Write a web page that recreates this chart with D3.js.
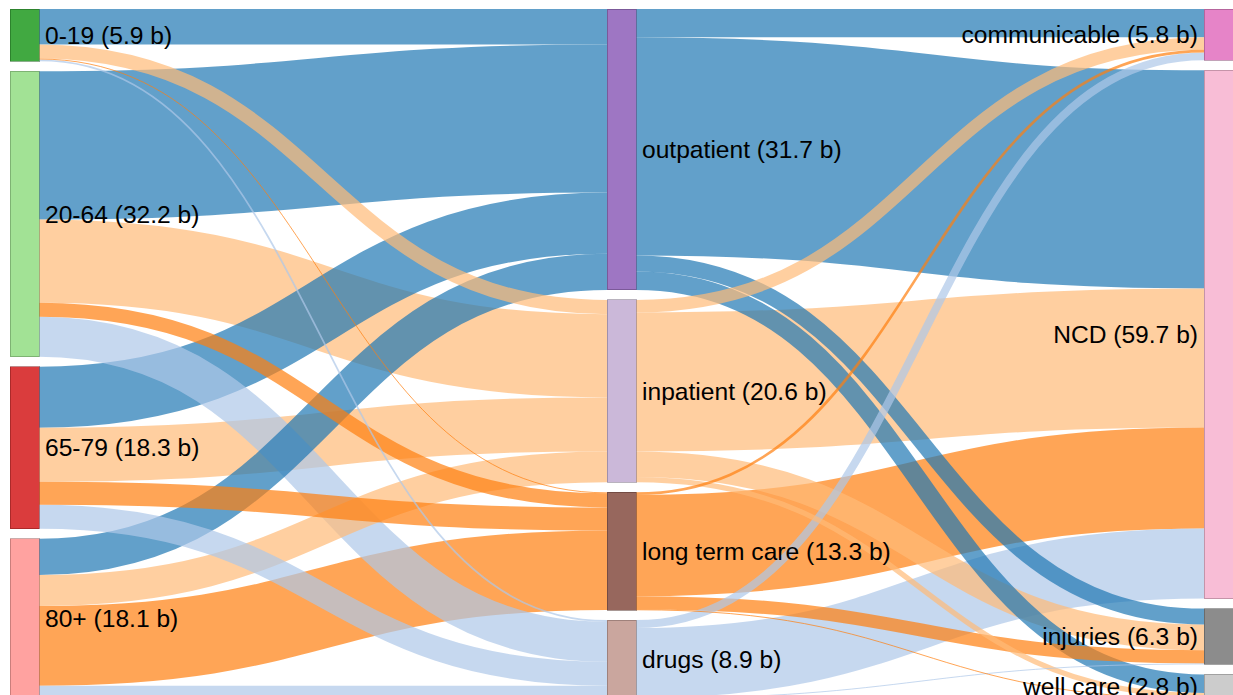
<!DOCTYPE html>
<html>
<head>
<meta charset="utf-8">
<script src="https://cdn.jsdelivr.net/npm/d3@7"></script>
<style>
  html, body { margin: 0; padding: 0; overflow: hidden; background: #fff; }
  .node text { font: 24.6px "Liberation Sans", Arial, sans-serif; fill: #000; }
</style>
</head>
<body>
<div id="chart"></div>
<script>
// three columns of the sankey
const ages = ["0-19", "20-64", "65-79", "80+"];
const careTypes = ["outpatient", "inpatient", "long term care", "drugs"];
const diseases = ["communicable", "NCD", "injuries", "well care"];

// spending in billions, rows = age group, cols = care type
const ageToCare = [
  [4.0, 1.6, 0.1, 0.2],
  [16.74, 9.4, 1.6, 4.5],
  [6.9, 6.1, 2.6, 2.71],
  [4.1, 3.5, 9.0, 1.5]
];
// rows = care type, cols = disease group
const careToDisease = [
  [3.2, 24.64, 1.8, 2.1],
  [1.4, 15.7, 2.9, 0.6],
  [0.3, 11.42, 1.5, 0.08],
  [0.9, 7.91, 0.1, 0]
];

const ageColors = ["#2ca02c", "#98df8a", "#d62728", "#ff9896"];
const careColors = ["#9467bd", "#c5b0d5", "#8c564b", "#c49c94"];
const diseaseColors = ["#e377c2", "#f7b6d2", "#7f7f7f", "#c7c7c7"];
// links take the colour of the care type they pass through
const careLinkColors = ["#1f77b4", "#ffbb78", "#ff7f0e", "#aec7e8"];

const width = 1233, height = 700;
const extent = {x0: 10, y0: 9, x1: 1233, y1: 699};
const nodeWidth = 29, nodePadding = 10;

const svg = d3.select("#chart").append("svg")
    .attr("width", width)
    .attr("height", height);

// build nodes
const columns = [
  ages.map((n, i) => ({name: n, color: ageColors[i]})),
  careTypes.map((n, i) => ({name: n, color: careColors[i]})),
  diseases.map((n, i) => ({name: n, color: diseaseColors[i]}))
];
columns.forEach((col, c) => col.forEach(n => {
  n.col = c; n.sourceLinks = []; n.targetLinks = [];
}));

// build links
const links = [];
function addLinks(matrix, srcCol, tgtCol, colorOf) {
  matrix.forEach((row, i) => row.forEach((v, j) => {
    if (v <= 0) return;
    const l = {source: srcCol[i], target: tgtCol[j], value: v, color: colorOf(i, j)};
    links.push(l);
    srcCol[i].sourceLinks.push(l);
    tgtCol[j].targetLinks.push(l);
  }));
}
addLinks(ageToCare, columns[0], columns[1], (i, j) => careLinkColors[j]);
addLinks(careToDisease, columns[1], columns[2], (i, j) => careLinkColors[i]);

columns.flat().forEach(n => {
  n.value = Math.max(d3.sum(n.sourceLinks, l => l.value), d3.sum(n.targetLinks, l => l.value));
});

// scales
const ky = d3.min(columns, col =>
  (extent.y1 - extent.y0 - (col.length - 1) * nodePadding) / d3.sum(col, n => n.value));
const total = d3.max(columns, col => d3.sum(col, n => n.value));
const breadth = d3.scaleLinear().domain([0, total]).range([0, total * ky]);
const x = d3.scaleLinear().domain([0, columns.length - 1]).range([extent.x0, extent.x1 - nodeWidth]);

columns.forEach(col => {
  let y = extent.y0;
  col.forEach(n => {
    n.x0 = x(n.col);
    n.x1 = n.x0 + nodeWidth;
    n.y0 = y;
    n.y1 = y + breadth(n.value);
    y = n.y1 + nodePadding;
  });
});

// stack links at each node
columns.flat().forEach(n => {
  n.sourceLinks.sort((a, b) => a.target.y0 - b.target.y0);
  n.targetLinks.sort((a, b) => a.source.y0 - b.source.y0);
  let sy = n.y0, ty = n.y0;
  n.sourceLinks.forEach(l => { l.width = breadth(l.value); l.y0 = sy + l.width / 2; sy += l.width; });
  n.targetLinks.forEach(l => { l.y1 = ty + l.width / 2; ty += l.width; });
});

const linkPath = d3.linkHorizontal()
    .source(d => [d.source.x1, d.y0])
    .target(d => [d.target.x0, d.y1]);

// big links first so the thin ones stay visible
svg.append("g")
    .attr("fill", "none")
  .selectAll("path")
  .data(links.slice().sort((a, b) => b.value - a.value))
  .join("path")
    .attr("d", linkPath)
    .attr("stroke", d => d.color)
    .attr("stroke-opacity", 0.7)
    .attr("stroke-width", d => Math.max(1, d.width));

const fmt = d3.format(".1f");
const node = svg.append("g")
  .selectAll("g")
  .data(columns.flat())
  .join("g")
    .attr("class", "node");

node.append("rect")
    .attr("x", d => d.x0)
    .attr("y", d => d.y0)
    .attr("width", d => d.x1 - d.x0)
    .attr("height", d => d.y1 - d.y0)
    .attr("fill", d => d.color)
    .attr("fill-opacity", 0.9)
    .attr("stroke", d => d3.rgb(d.color).darker(1.5))
    .attr("stroke-opacity", 0.5)
    .attr("shape-rendering", "crispEdges");

node.append("text")
    .attr("x", d => d.x0 < width / 2 ? d.x1 + 6 : d.x0 - 6)
    .attr("y", d => (d.y0 + d.y1) / 2)
    .attr("dy", "0.35em")
    .attr("text-anchor", d => d.x0 < width / 2 ? "start" : "end")
    .text(d => `${d.name} (${fmt(d.value)} b)`);
</script>
</body>
</html>
